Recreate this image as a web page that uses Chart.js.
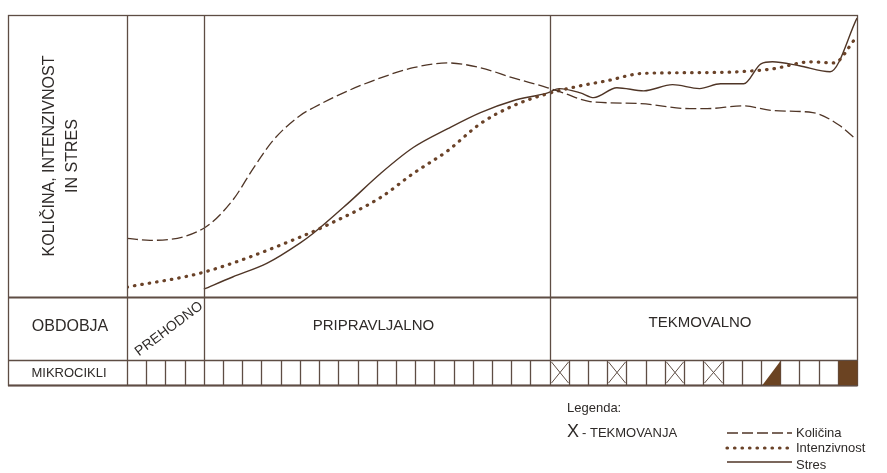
<!DOCTYPE html>
<html>
<head>
<meta charset="utf-8">
<script src="https://cdn.jsdelivr.net/npm/chart.js@4.4.0/dist/chart.umd.min.js"></script>
<style>
  html, body { margin: 0; padding: 0; background: #fff; }
  canvas { display: block; }
</style>
</head>
<body>
<canvas id="chart" width="887" height="473"></canvas>
<script>
// periods and microcycles
const phaseNames = ['PREHODNO', 'PRIPRAVLJALNO', 'TEKMOVALNO'];
const phaseCycles = [4, 18, 16];
const competitionCycles = [22, 25, 28, 30];
const taperCycle = 33;
const mainCycle = 37;

// curves, x in microcycles, y in % of plot height
const kolicinaX = [0, 1.2, 4.0, 5.5, 6.6, 7.6, 9.0, 9.7, 11.5, 13.2, 14.9, 16.7, 18.4, 20.1, 21.9, 22.7, 24.1, 26.7, 29.3, 30.2, 32.1, 33.6, 35.7, 37.1, 37.9];
const kolicinaY = [20.8, 20.1, 24.4, 34.3, 45.9, 55.5, 64.3, 67.1, 73.1, 77.7, 81.3, 83.0, 81.3, 77.7, 74.2, 72.4, 69.3, 68.6, 66.8, 66.8, 67.8, 66.1, 65.4, 60.8, 56.2];

const intenzivnostX = [0, 4.0, 9.0, 10.6, 13.2, 14.9, 16.7, 18.4, 20.1, 21.9, 23.6, 25.0, 26.7, 28.4, 31.9, 33.6, 35.6, 36.8, 37.9];
const intenzivnostY = [3.5, 8.8, 21.2, 26.1, 35.3, 43.8, 51.9, 61.5, 67.8, 72.1, 74.9, 76.7, 79.2, 79.5, 79.9, 80.9, 83.4, 83.0, 91.5];

const stresX = [4.0, 5.5, 7.3, 9.0, 9.7, 11.5, 13.2, 14.9, 16.7, 18.4, 20.1, 21.9, 22.5, 23.6, 24.3, 25.5, 26.9, 28.4, 29.8, 30.9, 32.1, 33.0, 33.6, 35.0, 36.6, 38.0];
const stresY = [2.8, 7.1, 12.0, 19.1, 22.6, 33.2, 43.8, 53.0, 59.7, 65.4, 69.6, 72.4, 73.9, 72.4, 70.7, 74.2, 73.1, 75.3, 73.9, 75.6, 75.6, 82.7, 83.4, 82.0, 79.9, 98.9];

const seriesNames = ['Količina', 'Intenzivnost', 'Stres'];

const pts = (xs, ys) => xs.map((x, i) => ({ x: x, y: ys[i] }));

const ink = '#5e4d44';
const curveInk = '#4f3526';
const fill = '#6b4322';
const font = '"Liberation Sans", Arial, sans-serif';

const tablePlugin = {
  id: 'table',
  afterDraw(chart) {
    const ctx = chart.ctx;
    const a = chart.chartArea;
    const x = chart.scales.x;
    const left = 8, rowB = 360, rowC = 385;
    const P = v => Math.round(x.getPixelForValue(v)) + 0.5;
    ctx.save();
    ctx.strokeStyle = ink;
    ctx.lineWidth = 1.3;
    // outer frame
    ctx.strokeRect(left + 0.5, a.top + 0.5, P(38) - left - 0.5, rowC - a.top);
    const hline = (y, w) => { ctx.lineWidth = w; ctx.beginPath(); ctx.moveTo(left, y); ctx.lineTo(P(38), y); ctx.stroke(); };
    hline(a.bottom + 0.5, 2);
    hline(rowB + 0.5, 1.5);
    hline(rowC + 0.5, 2);
    ctx.lineWidth = 1.3;
    const vline = (px, y0, y1) => { ctx.beginPath(); ctx.moveTo(px, y0); ctx.lineTo(px, y1); ctx.stroke(); };
    // phase boundaries
    let c = 0;
    vline(P(0), a.top, rowC);
    for (let i = 0; i < phaseCycles.length - 1; i++) {
      c += phaseCycles[i];
      vline(P(c), a.top, rowB);
    }
    // microcycle cells
    const total = phaseCycles.reduce((s, v) => s + v, 0);
    for (let i = 1; i < total; i++) vline(P(i), rowB, rowC);
    ctx.lineWidth = 1;
    competitionCycles.forEach(i => {
      const x0 = P(i) + 1, x1 = P(i + 1) - 1;
      ctx.beginPath();
      ctx.moveTo(x0, rowB + 2); ctx.lineTo(x1, rowC - 2);
      ctx.moveTo(x1, rowB + 2); ctx.lineTo(x0, rowC - 2);
      ctx.stroke();
    });
    ctx.fillStyle = fill;
    ctx.beginPath();
    ctx.moveTo(P(taperCycle) + 1, rowC);
    ctx.lineTo(P(taperCycle + 1), rowB + 1);
    ctx.lineTo(P(taperCycle + 1), rowC);
    ctx.closePath();
    ctx.fill();
    ctx.fillRect(P(mainCycle), rowB + 1, P(mainCycle + 1) - P(mainCycle), rowC - rowB - 1);

    // texts
    ctx.fillStyle = '#2e2a28';
    ctx.textAlign = 'center';
    ctx.textBaseline = 'middle';
    ctx.save();
    ctx.translate(50, 156);
    ctx.rotate(-Math.PI / 2);
    ctx.font = '16px ' + font;
    ctx.fillText('KOLIČINA, INTENZIVNOST', 0, 0);
    ctx.fillText('IN STRES', 0, 23);
    ctx.restore();

    ctx.font = '16px ' + font;
    ctx.fillText('OBDOBJA', 70, 327);
    ctx.font = '13px ' + font;
    ctx.fillText('MIKROCIKLI', 69, 373);

    c = 0;
    phaseNames.forEach((name, i) => {
      const cx = (P(c) + P(c + phaseCycles[i])) / 2;
      c += phaseCycles[i];
      if (i === 0) {
        ctx.save();
        ctx.translate(cx + 3, 329);
        ctx.rotate(-37 * Math.PI / 180);
        ctx.font = '14px ' + font;
        ctx.fillText(name, 0, 0);
        ctx.restore();
      } else {
        ctx.font = '15px ' + font;
        ctx.fillText(name, cx - 4, i === 1 ? 326 : 323);
      }
    });

    // legend
    ctx.textAlign = 'left';
    ctx.font = '13px ' + font;
    ctx.fillText('Legenda:', 567, 408);
    ctx.font = '18px ' + font;
    ctx.fillText('X', 567, 432);
    ctx.font = '13px ' + font;
    ctx.fillText('- TEKMOVANJA', 582, 433);
    const rows = [433, 448, 462];
    chart.data.datasets.forEach((ds, i) => {
      ctx.save();
      ctx.strokeStyle = ds.borderColor;
      ctx.lineWidth = ds.borderWidth;
      ctx.lineCap = ds.borderCapStyle || 'butt';
      ctx.setLineDash(ds.borderDash || []);
      ctx.beginPath();
      ctx.moveTo(727, rows[i]);
      ctx.lineTo(792, rows[i]);
      ctx.stroke();
      ctx.restore();
      ctx.fillText(seriesNames[i], 796, rows[i] + (i === 2 ? 3 : 0));
    });
    ctx.restore();
  }
};

new Chart(document.getElementById('chart'), {
  type: 'line',
  data: {
    datasets: [
      {
        label: seriesNames[0],
        data: pts(kolicinaX, kolicinaY),
        borderColor: curveInk,
        borderWidth: 1.3,
        borderDash: [11, 4],
        pointRadius: 0,
        cubicInterpolationMode: 'monotone'
      },
      {
        label: seriesNames[1],
        data: pts(intenzivnostX, intenzivnostY),
        borderColor: '#6a4228',
        borderWidth: 3.2,
        borderDash: [0.5, 7],
        borderCapStyle: 'round',
        pointRadius: 0,
        cubicInterpolationMode: 'monotone'
      },
      {
        label: seriesNames[2],
        data: pts(stresX, stresY),
        borderColor: curveInk,
        borderWidth: 1.4,
        pointRadius: 0,
        cubicInterpolationMode: 'monotone'
      }
    ]
  },
  options: {
    responsive: false,
    animation: false,
    devicePixelRatio: 1,
    layout: { padding: { left: 127, right: 30, top: 15, bottom: 176 } },
    plugins: { legend: { display: false }, tooltip: { enabled: false } },
    scales: {
      x: { type: 'linear', min: 0, max: 38, display: false },
      y: { min: 0, max: 100, display: false }
    }
  },
  plugins: [tablePlugin]
});
</script>
</body>
</html>
